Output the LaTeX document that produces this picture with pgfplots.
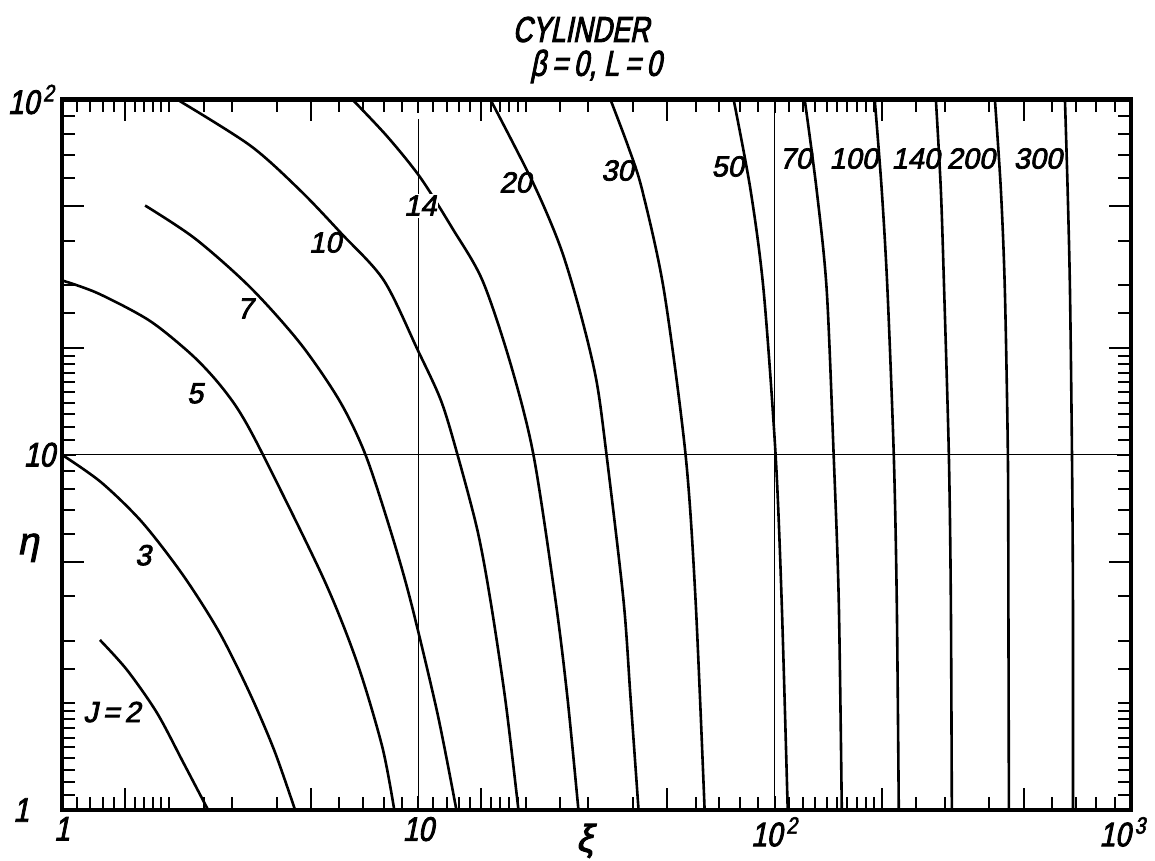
\documentclass[border=0pt]{standalone}
\usepackage{pgfplots}
\pgfplotsset{compat=1.18}
\usepackage{fontspec}
\setmainfont{Liberation Sans}
% slanted, heavy lettering
\newfontfamily\letterfont{Liberation Sans}[FakeSlant=0.2, FakeBold=2.5]
\newfontfamily\tickfont{Liberation Sans}[FakeSlant=0.2, FakeBold=2.5, FakeStretch=0.82]
\newfontfamily\titlefont{Liberation Sans}[FakeSlant=0.2, FakeBold=2.5, FakeStretch=0.75]

\newcommand\lblfont{\letterfont\fontsize{14.5}{17}\selectfont}
\pgfplotsset{jcurve/.style={black, line width=1.3pt, smooth}}

\begin{document}
\begin{tikzpicture}
\begin{loglogaxis}[
  scale only axis,
  width=534.5pt, height=355.25pt,
  xmin=1, xmax=1000, ymin=1, ymax=100,
  axis line style={line width=2.3pt},
  tick align=inside,
  xtick={1,10,100,1000},
  xticklabels={1,10,10\kern2pt\textsuperscript{2},\kern-8pt10\kern2pt\textsuperscript{3}},
  ytick={1,10,100},
  yticklabels={\llap{1\kern13pt},10,10\kern2pt\textsuperscript{2}},
  minor xtick={1.1,1.2,1.3,1.4,1.5,1.6,1.7,1.8,1.9,2,2.5,3,4,5,6,7,8,9,
               11,12,13,14,15,16,17,18,19,20,25,30,40,50,60,70,80,90,
               110,120,130,140,150,160,170,180,190,200,250,300,400,500,600,700,800,900},
  minor ytick={1.1,1.2,1.3,1.4,1.5,1.6,1.7,1.8,1.9,2,2.5,3,4,5,6,7,8,9,
               11,12,13,14,15,16,17,18,19,20,25,30,40,50,60,70,80,90},
  major tick length=7pt,
  minor tick length=6.5pt,
  tick style={black, line width=1pt},
  ymajorgrids,
  major grid style={black, line width=0.6pt},
  extra x ticks={1.5,5,15,50,200,500},
  extra x tick labels={,,,,,},
  extra x tick style={grid=none, major tick length=11pt},
  extra y ticks={5,20,50},
  extra y tick labels={,,},
  extra y tick style={grid=none, major tick length=11pt},
  ticklabel style={font=\tickfont\fontsize{17}{20}\selectfont},
]
% reference lines at xi = 10 and xi = 100
\addplot[black, line width=0.6pt] coordinates {(10,1) (10,88)};
\addplot[black, line width=0.6pt] coordinates {(100,1) (100,100)};

% J = 2
\addplot[jcurve] coordinates {(1.278,3.01) (1.523,2.477) (1.849,1.875) (2.19,1.36) (2.571,1)};
% J = 3
\addplot[jcurve] coordinates {(1,10) (1.287,8.37) (1.678,6.46) (2.187,4.58) (2.761,3.17) (3.353,2.148)
  (3.939,1.475) (4.51,1)};
% J = 5
\addplot[jcurve] coordinates {(1,30.97) (1.262,28.47) (1.756,23.89) (2.289,19.30) (2.708,16.20) (3.131,13.34)
  (3.670,9.97) (5.445,4.436) (6.74,2.592) (7.925,1.504) (8.56,1)};
% J = 7
\addplot[jcurve] coordinates {(1.711,50.3) (2.363,40.6) (3.375,29.6) (4.66,20.6) (6.00,14.23) (7.10,10.03)
  (8.35,6.13) (9.50,3.90) (11.31,1.875) (12.79,1)};
% J = 10
\addplot[jcurve] coordinates {(2.104,100) (3.375,74.2) (4.66,55.5) (6.076,42.0) (8.00,30.97) (9.97,19.68)
  (11.57,14.23) (12.87,10.03) (14.65,6.13) (15.93,3.90) (17.55,2.04) (19.10,1)};
% J = 14
\addplot[jcurve] coordinates {(6.53,100) (8.18,78.7) (10.13,60.3) (12.46,43.4) (15.13,30.97) (18.13,18.09)
  (21.04,10) (24.26,3.90) (26.2,2.079) (28.14,1)};
% J = 20
\addplot[jcurve] coordinates {(15.93,100) (21.04,58.0) (25.06,38.35) (28.51,25.0) (31.6,16.2) (33.74,10)
  (37.65,3.90) (39.4,2.079) (41.5,1)};
% J = 30
\addplot[jcurve] coordinates {(34.6,100) (38.9,73.3) (42.5,55.5) (48.9,29.0) (56.23,10) (59.98,3.90) (63.6,1)};
% J = 50
\addplot[jcurve] coordinates {(76.7,100) (85.6,55.5) (93.1,29.0) (100.6,10) (104.6,3.90) (108.8,1)};
% J = 70
\addplot[jcurve] coordinates {(121.4,100) (131.2,55.5) (140.0,29.0) (146.4,10) (151.3,3.90) (154.3,1)};
% J = 100
\addplot[jcurve] coordinates {(190.9,100) (199.8,55.5) (207.3,29.0) (215.9,10) (220.1,3.90) (223.0,1)};
% J = 140
\addplot[jcurve] coordinates {(283.4,100) (292.7,55.5) (299.0,29.0) (308.2,10) (312.2,3.90) (314.2,1)};
% J = 200
\addplot[jcurve] coordinates {(415,100) (431.4,55.5) (442.6,29.0) (451.3,10) (452.8,3.90) (454.3,1)};
% J = 300
\addplot[jcurve] coordinates {(652.6,100) (664.1,55.5) (674.1,29.0) (682.9,10) (687.2,3.90) (687.2,1)};

% curve labels
\node[font=\lblfont] at (axis cs:1.382,1.887) {J\,=\,2};
\node[font=\lblfont] at (axis cs:1.689,5.215) {3};
\node[font=\lblfont] at (axis cs:2.363,14.89) {5};
\node[font=\lblfont] at (axis cs:3.266,25.8) {7};
\node[font=\lblfont] at (axis cs:5.48,39.6) {10};
\node[font=\lblfont, fill=white, inner sep=1pt] at (axis cs:10.13,50.3) {14};
\node[font=\lblfont] at (axis cs:18.73,58.4) {20};
\node[font=\lblfont] at (axis cs:36.2,63.1) {30};
\node[font=\lblfont] at (axis cs:73.8,64.8) {50};
\node[font=\lblfont] at (axis cs:114.5,68.2) {70};
\node[font=\lblfont] at (axis cs:166.7,68.2) {100};
\node[font=\lblfont] at (axis cs:248.9,68.2) {140};
\node[font=\lblfont] at (axis cs:355.3,68.2) {200};
\node[font=\lblfont] at (axis cs:548.1,68.2) {300};

\coordinate (LL) at (rel axis cs:0,0);
\coordinate (UR) at (rel axis cs:1,1);
\coordinate (T1) at (rel axis cs:0.4855,1.0985);
\coordinate (T2) at (rel axis cs:0.4995,1.0465);
\coordinate (XL) at (rel axis cs:0.489,-0.068);
\coordinate (YL) at (rel axis cs:-0.0318,0.369);
\end{loglogaxis}

\node[font=\titlefont\fontsize{18}{20}\selectfont, inner sep=0pt] at (T1) {CYLINDER};
\node[font=\titlefont\fontsize{18}{20}\selectfont, inner sep=0pt] at (T2) {β\,=\,0, L\,=\,0};
\node[font=\letterfont\fontsize{19}{21}\selectfont, inner sep=0pt, anchor=south] at (XL) {ξ};
\node[font=\letterfont\fontsize{19}{21}\selectfont, inner sep=0pt] at (YL) {η};

\pgfresetboundingbox
\path[use as bounding box] ([shift={(-31pt,-25pt)}]LL) rectangle ([shift={(12pt,49.75pt)}]UR);
\end{tikzpicture}
\end{document}
